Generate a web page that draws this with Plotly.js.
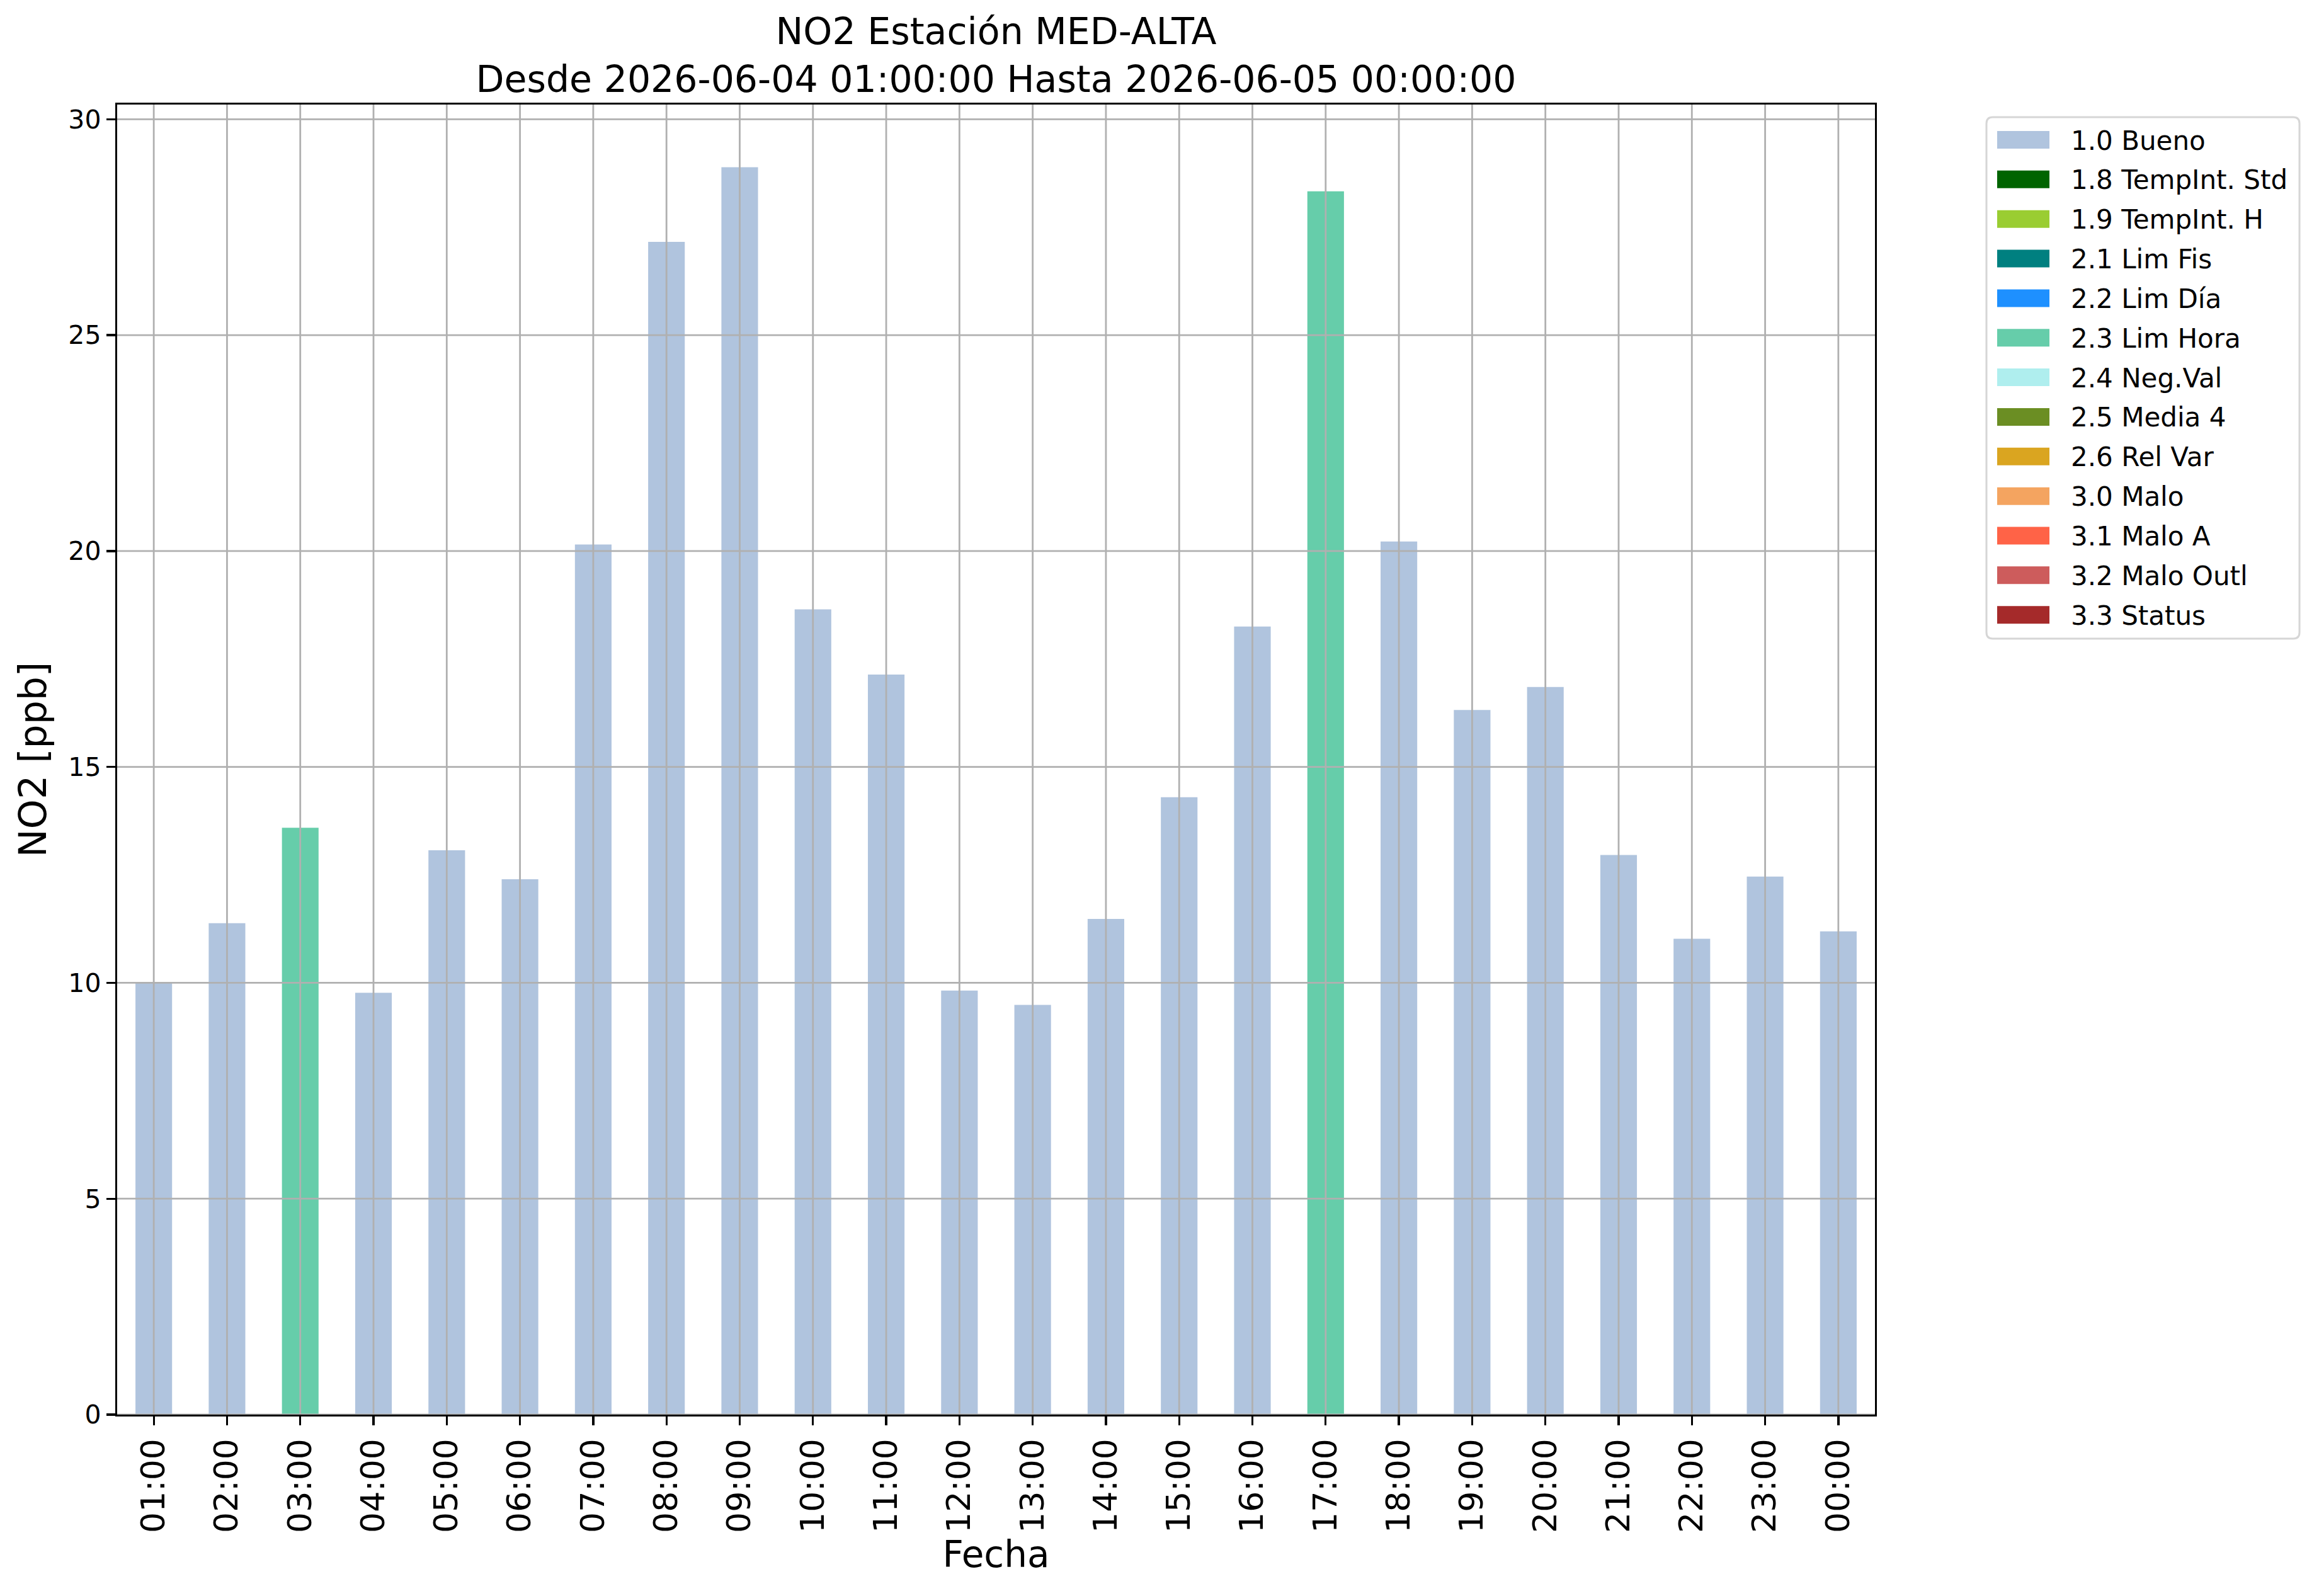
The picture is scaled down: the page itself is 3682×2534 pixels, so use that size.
<!DOCTYPE html>
<html><head><meta charset="utf-8">
<script src="https://cdn.plot.ly/plotly-3.0.1.min.js"></script>
<style>html,body{margin:0;padding:0;background:#fff}</style>
</head><body><div id="chart" style="width:3682px;height:2534px"></div>
<script>
const hours = ['01:00','02:00','03:00','04:00','05:00','06:00','07:00','08:00','09:00','10:00','11:00','12:00',
               '13:00','14:00','15:00','16:00','17:00','18:00','19:00','20:00','21:00','22:00','23:00','00:00'];
const no2Values = [10.0, 11.38, 13.59, 9.77, 13.07, 12.40, 20.15, 27.16, 28.89, 18.65, 17.14, 9.82,
                   9.49, 11.48, 14.30, 18.25, 28.33, 20.22, 16.32, 16.85, 12.96, 11.02, 12.46, 11.19];
const qualityFlags = ['1.0','1.0','2.3','1.0','1.0','1.0','1.0','1.0','1.0','1.0','1.0','1.0',
                      '1.0','1.0','1.0','1.0','2.3','1.0','1.0','1.0','1.0','1.0','1.0','1.0'];
const flagCodes = ['1.0','1.8','1.9','2.1','2.2','2.3','2.4','2.5','2.6','3.0','3.1','3.2','3.3'];
const flagNames = ['1.0 Bueno','1.8 TempInt. Std','1.9 TempInt. H','2.1 Lim Fis','2.2 Lim Día','2.3 Lim Hora',
                   '2.4 Neg.Val','2.5 Media 4','2.6 Rel Var','3.0 Malo','3.1 Malo A','3.2 Malo Outl','3.3 Status'];
const flagColors = ['#B0C4DE','#006400','#9ACD32','#008080','#1E90FF','#66CDAA',
                    '#AFEEEE','#6B8E23','#DAA520','#F4A460','#FF6347','#CD5C5C','#A52A2A'];
const yTicks = [0, 5, 10, 15, 20, 25, 30];

const FONT = 'DejaVu Sans, Liberation Sans, sans-serif';
const W = 3682, H = 2534;
const M = {l: 186, r: 705, t: 166, b: 288};
const PW = W - M.l - M.r, PH = H - M.t - M.b;
const px2x = px => (px - M.l) / PW;
const py2y = py => (H - M.b - py) / PH;

const traces = flagCodes.map((code, k) => ({
  type: 'bar', x: hours,
  y: no2Values.map((v, i) => qualityFlags[i] === code ? v : null),
  marker: {color: flagColors[k], line: {width: 0}},
  width: 0.5, showlegend: false, name: flagNames[k]
}));

const GRID = '#b0b0b0';
const shapes = [];
hours.forEach((h, i) => {
  shapes.push({type: 'line', xref: 'x', yref: 'paper', x0: i, x1: i, y0: 0, y1: 1,
               line: {color: GRID, width: 2.8}, layer: 'above'});
});
yTicks.forEach(t => {
  shapes.push({type: 'line', xref: 'paper', yref: 'y', x0: 0, x1: 1, y0: t, y1: t,
               line: {color: GRID, width: 2.8}, layer: 'above'});
});

// legend box (rounded) drawn in paper coordinates
const LB = {x0: 3154, x1: 3651, y0: 186, y1: 1014, r: 10};
const p = (x, y) => px2x(x) + ',' + py2y(y);
const boxPath = 'M' + p(LB.x0 + LB.r, LB.y0) + ' L' + p(LB.x1 - LB.r, LB.y0) +
  ' Q' + p(LB.x1, LB.y0) + ' ' + p(LB.x1, LB.y0 + LB.r) +
  ' L' + p(LB.x1, LB.y1 - LB.r) + ' Q' + p(LB.x1, LB.y1) + ' ' + p(LB.x1 - LB.r, LB.y1) +
  ' L' + p(LB.x0 + LB.r, LB.y1) + ' Q' + p(LB.x0, LB.y1) + ' ' + p(LB.x0, LB.y1 - LB.r) +
  ' L' + p(LB.x0, LB.y0 + LB.r) + ' Q' + p(LB.x0, LB.y0) + ' ' + p(LB.x0 + LB.r, LB.y0) + ' Z';
shapes.push({type: 'path', xref: 'paper', yref: 'paper', path: boxPath,
             fillcolor: '#ffffff', line: {color: '#d6d6d6', width: 3}, layer: 'above'});

const annotations = [];
const firstY = 222, stepY = 62.85;
flagNames.forEach((name, k) => {
  const cy = firstY + k * stepY;
  shapes.push({type: 'rect', xref: 'paper', yref: 'paper',
               x0: px2x(3171), x1: px2x(3254), y0: py2y(cy + 14), y1: py2y(cy - 14),
               fillcolor: flagColors[k], line: {width: 0}, layer: 'above'});
  annotations.push({xref: 'paper', yref: 'paper', x: px2x(3286), y: py2y(cy + 1),
                    xanchor: 'left', yanchor: 'middle', showarrow: false, text: name,
                    font: {family: FONT, size: 42, color: '#000'}});
});

const layout = {
  width: W, height: H,
  paper_bgcolor: '#fff', plot_bgcolor: '#fff',
  font: {family: FONT, color: '#000'},
  margin: {l: M.l, r: M.r, t: M.t, b: M.b, pad: 0},
  barmode: 'overlay', showlegend: false,
  title: {
    text: 'NO2 Estación MED-ALTA<br>Desde 2026-06-04 01:00:00 Hasta 2026-06-05 00:00:00',
    font: {family: FONT, size: 58.5, color: '#000'},
    x: 0.5, xref: 'paper', xanchor: 'center',
    y: 1 - 70 / H, yref: 'container', yanchor: 'top'
  },
  xaxis: {
    type: 'category', range: [-0.5, hours.length - 0.5],
    showgrid: false, zeroline: false,
    showline: true, mirror: true, linecolor: '#000', linewidth: 3.3,
    ticks: 'outside', ticklen: 14, tickwidth: 3.3, tickcolor: '#000',
    tickangle: -90, tickfont: {family: FONT, size: 52, color: '#000'},
    title: {text: 'Fecha', font: {family: FONT, size: 58, color: '#000'}, standoff: 10},
    automargin: false
  },
  yaxis: {
    range: [0, 30.34], tickvals: yTicks, ticktext: yTicks.map(String),
    showgrid: false, zeroline: false,
    showline: true, mirror: true, linecolor: '#000', linewidth: 3.3,
    ticks: 'outside', ticklen: 14, tickwidth: 3.3, tickcolor: '#000',
    tickfont: {family: FONT, size: 41, color: '#000'},
    title: {text: 'NO2 [ppb]', font: {family: FONT, size: 60, color: '#000'}, standoff: 16},
    automargin: false
  },
  shapes: shapes,
  annotations: annotations
};

Plotly.newPlot('chart', traces, layout, {staticPlot: true, displayModeBar: false});
</script></body></html>
